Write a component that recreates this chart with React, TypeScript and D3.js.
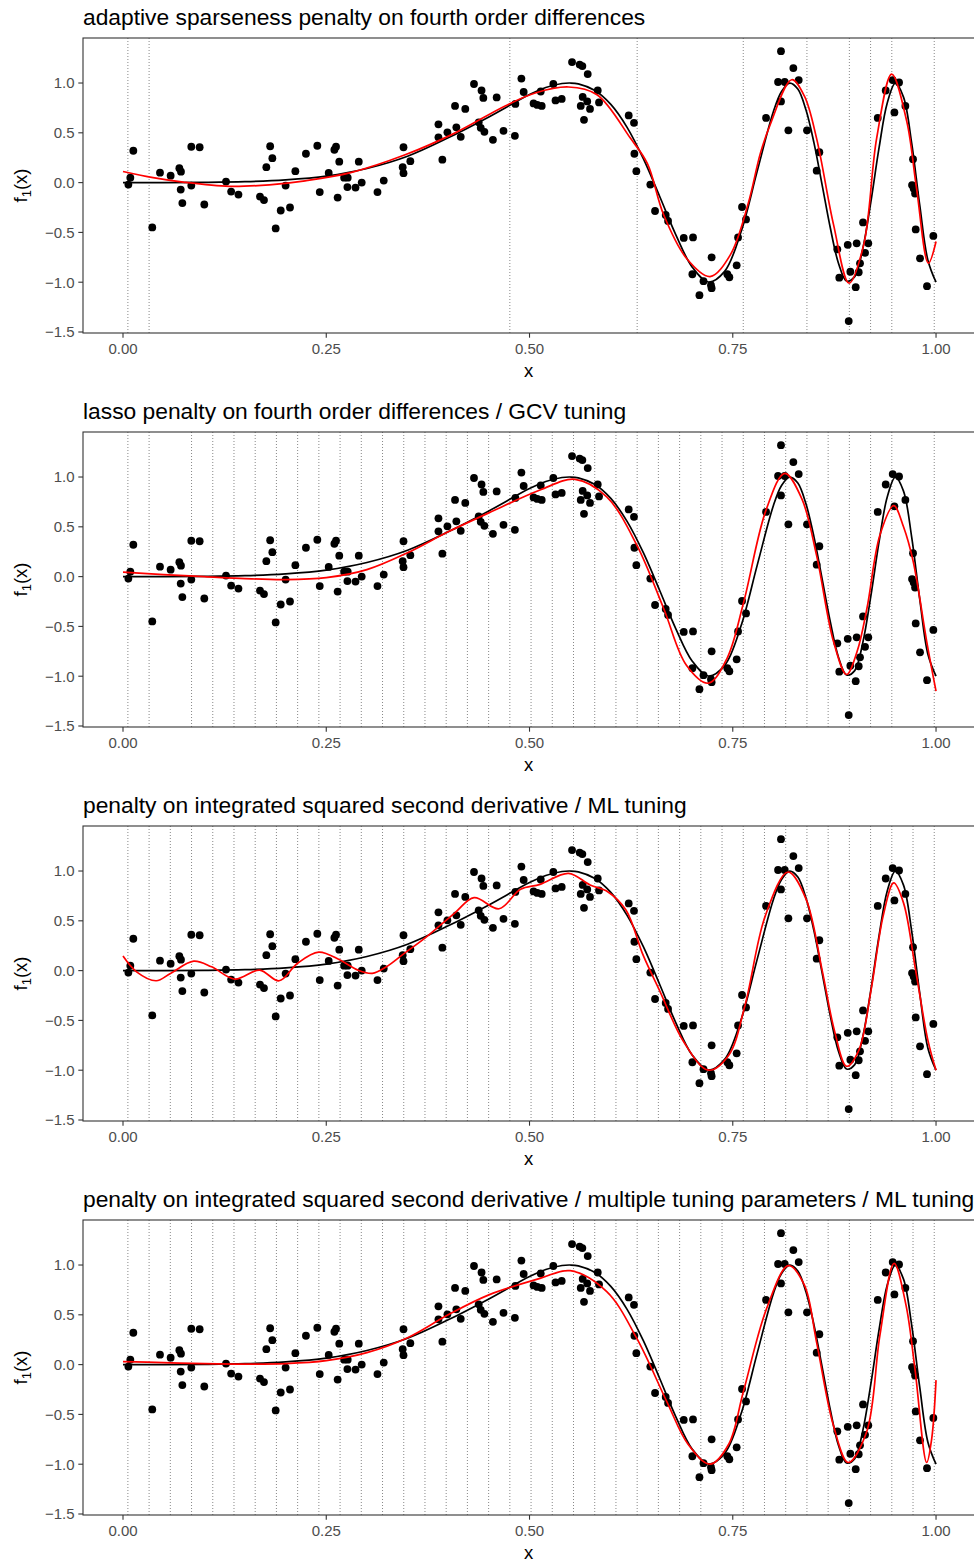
import React from "react";
import * as d3 from "d3";

// ---- layout ----
const WIDTH = 974;
const HEIGHT = 1564;
const PLOT_LEFT = 83;
const PLOT_RIGHT = 975;
const PANEL_TOP = 38;
const PANEL_HEIGHT = 295;
const PANEL_STEP = 394;
const FONT = "'Liberation Sans', Arial, Helvetica, sans-serif";

// ---- panel titles ----
const TITLES = [
  "adaptive sparseness penalty on fourth order differences",
  "lasso penalty on fourth order differences / GCV tuning",
  "penalty on integrated squared second derivative / ML tuning",
  "penalty on integrated squared second derivative / multiple tuning parameters / ML tuning",
];

// ---- axes ----
const X_DOMAIN = [-0.0492, 1.0467];
const Y_DOMAIN = [-1.51, 1.452];
const X_TICKS = [0, 0.25, 0.5, 0.75, 1];
const Y_TICKS = [-1.5, -1, -0.5, 0, 0.5, 1];

// ---- observations ----
const OBS_X = [
  0.0066, 0.009, 0.0127, 0.036, 0.0455, 0.0586, 0.0693, 0.0713, 0.071, 0.073,
  0.084, 0.084, 0.0943, 0.1, 0.1267, 0.133, 0.142, 0.1685, 0.1734, 0.1763,
  0.181, 0.1837, 0.1878, 0.194, 0.2, 0.2054, 0.212, 0.225, 0.239, 0.242,
  0.253, 0.26, 0.262, 0.264, 0.266, 0.272, 0.2764, 0.276, 0.286, 0.29,
  0.2936, 0.313, 0.3207, 0.345, 0.344, 0.345, 0.3534, 0.388, 0.388, 0.3928,
  0.399, 0.4084, 0.41, 0.4154, 0.421, 0.4317, 0.4375, 0.441, 0.4432, 0.44,
  0.4445, 0.455, 0.4596, 0.468, 0.482, 0.4826, 0.49, 0.4928, 0.505, 0.5096,
  0.515, 0.5138, 0.5293, 0.532, 0.5396, 0.5523, 0.5617, 0.565, 0.5716, 0.5654,
  0.563, 0.571, 0.5744, 0.567, 0.5839, 0.5855, 0.622, 0.6285, 0.629, 0.6314,
  0.6486, 0.6544, 0.6675, 0.6704, 0.6897, 0.7011, 0.7003, 0.709, 0.714, 0.7232,
  0.724, 0.724, 0.7433, 0.7458, 0.7548, 0.7565, 0.7614, 0.7663, 0.7909, 0.8093,
  0.8057, 0.8139, 0.8093, 0.8184, 0.8245, 0.8311, 0.8413, 0.8565, 0.8532, 0.8786,
  0.881, 0.8914, 0.8926, 0.8946, 0.9012, 0.9024, 0.9049, 0.9065, 0.9127, 0.9167,
  0.9102, 0.9283, 0.9381, 0.9467, 0.9545, 0.9488, 0.9623, 0.9717, 0.9705, 0.9725,
  0.9742, 0.975, 0.9803, 0.9889, 0.9967,
];
const OBS_Y = [
  -0.02, 0.05, 0.32, -0.45, 0.1, 0.07, 0.145, 0.11, -0.07, -0.205,
  0.36, -0.03, 0.355, -0.22, 0.01, -0.09, -0.12, -0.14, -0.175, 0.155,
  0.365, 0.245, -0.46, -0.28, -0.03, -0.25, 0.115, 0.29, 0.37, -0.095,
  0.097, 0.33, 0.36, -0.15, 0.21, 0.05, 0.05, -0.045, -0.05, 0.21,
  0.0, -0.095, 0.02, 0.355, 0.155, 0.095, 0.215, 0.585, 0.455, 0.23,
  0.505, 0.77, 0.555, 0.46, 0.74, 0.99, 0.605, 0.925, 0.85, 0.55,
  0.51, 0.43, 0.855, 0.52, 0.47, 0.79, 1.045, 0.91, 0.795, 0.78,
  0.77, 0.915, 0.99, 0.825, 0.84, 1.21, 1.185, 1.17, 1.09, 0.86,
  0.77, 0.815, 0.74, 0.63, 0.925, 0.805, 0.675, 0.6, 0.29, 0.115,
  -0.02, -0.285, -0.325, -0.385, -0.555, -0.55, -0.92, -1.13, -0.99, -1.03,
  -1.06, -0.75, -0.92, -0.95, -0.83, -0.55, -0.245, -0.37, 0.65, 1.32,
  1.01, 1.01, 0.815, 0.525, 1.15, 1.03, 0.525, 0.305, 0.12, -0.67,
  -0.955, -0.625, -1.39, -0.895, -1.05, -0.61, -0.9, -0.81, -0.705, -0.61,
  -0.4, 0.65, 0.925, 1.03, 1.005, 0.705, 0.77, 0.235, -0.025, -0.06,
  -0.11, -0.47, -0.76, -1.04, -0.535,
];

// ---- true function f1 (black) ----
const TRUE_X = [
  0, 0.05, 0.1, 0.15, 0.2, 0.25, 0.3, 0.35, 0.4, 0.45, 0.5, 0.52, 0.54, 0.55,
  0.56, 0.58, 0.6, 0.62, 0.64, 0.66, 0.68, 0.7, 0.72, 0.74, 0.76, 0.78, 0.8,
  0.81, 0.82, 0.83, 0.84, 0.85, 0.86, 0.87, 0.88, 0.89, 0.9, 0.91, 0.92, 0.93,
  0.94, 0.95, 0.96, 0.97, 0.98, 0.99, 1.0,
];
const TRUE_Y = [
  0, 0, 0.002, 0.009, 0.028, 0.066, 0.142, 0.265, 0.45, 0.66, 0.884, 0.955,
  0.995, 1.0, 0.992, 0.927, 0.785, 0.555, 0.24, -0.137, -0.524, -0.847, -0.998,
  -0.891, -0.499, 0.113, 0.714, 0.915, 0.999, 0.94, 0.731, 0.394, -0.027,
  -0.456, -0.809, -0.988, -0.944, -0.66, -0.185, 0.353, 0.799, 0.998, 0.858,
  0.4, -0.229, -0.779, -1.0,
];

// ---- fitted curves (red) ----
const FIT1_X = [
  0, 0.037, 0.074, 0.131, 0.18, 0.224, 0.28, 0.347, 0.408, 0.47, 0.507, 0.548,
  0.583, 0.624, 0.645, 0.665, 0.693, 0.722, 0.747, 0.769, 0.784, 0.796, 0.8225,
  0.838, 0.853, 0.874, 0.893, 0.911, 0.927, 0.9455, 0.964, 0.976, 0.9906, 1.0,
];
const FIT1_Y = [
  0.112, 0.05, 0.005, -0.038, -0.022, 0.018, 0.1, 0.279, 0.497, 0.77, 0.9, 0.96,
  0.883, 0.447, 0.19, -0.323, -0.759, -0.943, -0.725, -0.21, 0.296, 0.581, 1.033,
  0.87, 0.447, -0.424, -1.01, -0.625, 0.447, 1.09, 0.615, -0.055, -0.809, -0.591,
];

const FIT2_X = [
  0, 0.05, 0.1, 0.15, 0.2, 0.25, 0.3, 0.35, 0.4, 0.45, 0.513, 0.556, 0.595,
  0.632, 0.665, 0.693, 0.72, 0.743, 0.763, 0.791, 0.814, 0.835, 0.853, 0.874,
  0.89, 0.903, 0.915, 0.931, 0.948, 0.96, 0.972, 0.9886, 1.0,
];
const FIT2_Y = [
  0.045, 0.02, 0.0, -0.02, -0.03, -0.01, 0.07, 0.24, 0.45, 0.64, 0.87, 0.977,
  0.8, 0.316, -0.32, -0.89, -1.07, -0.82, -0.27, 0.67, 1.037, 0.78, 0.216,
  -0.655, -0.983, -0.75, -0.32, 0.417, 0.712, 0.5, 0.149, -0.655, -1.15,
];

const FIT3_X = [
  0, 0.0167, 0.0408, 0.0584, 0.087, 0.109, 0.1375, 0.168, 0.192, 0.2144, 0.2407,
  0.267, 0.289, 0.3066, 0.324, 0.346, 0.3725, 0.4076, 0.4318, 0.4625, 0.489,
  0.513, 0.548, 0.5745, 0.5966, 0.6186, 0.64, 0.66, 0.69, 0.72, 0.745, 0.765,
  0.79, 0.818, 0.84, 0.86, 0.875, 0.89, 0.905, 0.92, 0.935, 0.948, 0.96, 0.975,
  0.99, 1.0,
];
const FIT3_Y = [
  0.146, -0.012, -0.102, -0.028, 0.095, 0.038, -0.085, 0.005, -0.102, 0.072, 0.186,
  0.106, 0.005, -0.028, 0.038, 0.173, 0.333, 0.575, 0.732, 0.621, 0.816,
  0.866, 0.977, 0.86, 0.79, 0.608, 0.15, -0.2, -0.72, -1.0, -0.85, -0.35,
  0.55, 0.99, 0.72, 0.0, -0.6, -0.96, -0.8, -0.2, 0.55, 0.88, 0.68, 0.0,
  -0.7, -1.0,
];

const FIT4_X = [
  0, 0.05, 0.1, 0.15, 0.2, 0.25, 0.3, 0.35, 0.4, 0.45, 0.513, 0.55, 0.595,
  0.632, 0.669, 0.695, 0.722, 0.745, 0.763, 0.7917, 0.8184, 0.838, 0.853,
  0.8737, 0.892, 0.9147, 0.931, 0.9484, 0.963, 0.974, 0.9885, 0.9947, 1.0,
];
const FIT4_Y = [
  0.03, 0.02, 0.01, 0.005, 0.01, 0.04, 0.12, 0.27, 0.5, 0.7, 0.866, 0.943, 0.732,
  0.263, -0.374, -0.8, -1.0, -0.8, -0.273, 0.565, 0.993, 0.8, 0.229,
  -0.608, -0.983, -0.675, 0.296, 1.017, 0.6, -0.038, -0.983, -0.742, -0.156,
];

// ---- knot positions (dotted verticals) ----
const KNOTS_1 = [0.006, 0.0321, 0.4758, 0.6324, 0.7629, 0.8412, 0.8934, 0.9195, 0.9456, 0.9978];
const KNOTS_2 = [
  0.006, 0.0321, 0.0843, 0.1104, 0.1365, 0.1626, 0.1887, 0.2148, 0.2409, 0.267,
  0.2931, 0.3192, 0.3453, 0.3714, 0.3975, 0.4236, 0.4497, 0.4758, 0.5019, 0.528,
  0.5541, 0.5802, 0.6063, 0.6324, 0.6585, 0.6846, 0.7107, 0.7368, 0.7629, 0.789,
  0.8151, 0.8412, 0.8673, 0.8934, 0.9195, 0.9456, 0.9978,
];
const KNOTS_FULL = [
  0.006, 0.0321, 0.0582, 0.0843, 0.1104, 0.1365, 0.1626, 0.1887, 0.2148, 0.2409,
  0.267, 0.2931, 0.3192, 0.3453, 0.3714, 0.3975, 0.4236, 0.4497, 0.4758, 0.5019,
  0.528, 0.5541, 0.5802, 0.6063, 0.6324, 0.6585, 0.6846, 0.7107, 0.7368, 0.7629,
  0.789, 0.8151, 0.8412, 0.8673, 0.8934, 0.9195, 0.9456, 0.9717, 0.9978,
];

const PANELS = [
  { title: TITLES[0], fitX: FIT1_X, fitY: FIT1_Y, knots: KNOTS_1 },
  { title: TITLES[1], fitX: FIT2_X, fitY: FIT2_Y, knots: KNOTS_2 },
  { title: TITLES[2], fitX: FIT3_X, fitY: FIT3_Y, knots: KNOTS_FULL },
  { title: TITLES[3], fitX: FIT4_X, fitY: FIT4_Y, knots: KNOTS_FULL },
];

const fmtX = (v: number) => v.toFixed(2);
const fmtY = (v: number) => (v < 0 ? "\u2212" + Math.abs(v).toFixed(1) : v.toFixed(1));

const x = d3.scaleLinear().domain(X_DOMAIN).range([PLOT_LEFT, 974]);

function Panel({ index }: { index: number }) {
  const p = PANELS[index];
  const top = PANEL_TOP + index * PANEL_STEP;
  const bottom = top + PANEL_HEIGHT;
  const y = d3.scaleLinear().domain(Y_DOMAIN).range([bottom, top]);

  const smooth = d3
    .line<number>()
    .x((_, i) => x(TRUE_X[i]))
    .y((v) => y(v))
    .curve(d3.curveCatmullRom.alpha(0.5));
  const fitLine = d3
    .line<number>()
    .x((_, i) => x(p.fitX[i]))
    .y((v) => y(v))
    .curve(d3.curveCatmullRom.alpha(0.5));

  return (
    <g>
      <text x={PLOT_LEFT} y={top - 13.5} fontFamily={FONT} fontSize={22.8} fill="#000">
        {p.title}
      </text>

      {p.knots.map((k, i) => (
        <line
          key={"k" + i}
          x1={x(k)}
          x2={x(k)}
          y1={top}
          y2={bottom}
          stroke="#555"
          strokeWidth={0.7}
          strokeDasharray="1 2"
        />
      ))}

      {OBS_X.map((ox, i) => (
        <circle key={"p" + i} cx={x(ox)} cy={y(OBS_Y[i])} r={3.9} fill="#000" />
      ))}

      <path d={smooth(TRUE_Y) || ""} fill="none" stroke="#000" strokeWidth={1.7} />
      <path d={fitLine(p.fitY) || ""} fill="none" stroke="#FF0000" strokeWidth={1.7} />

      {/* panel frame */}
      <rect
        x={PLOT_LEFT}
        y={top}
        width={PLOT_RIGHT - PLOT_LEFT}
        height={PANEL_HEIGHT}
        fill="none"
        stroke="#333"
        strokeWidth={1.1}
      />

      {/* y axis */}
      {Y_TICKS.map((t) => (
        <g key={"yt" + t}>
          <line x1={PLOT_LEFT - 4.7} x2={PLOT_LEFT} y1={y(t)} y2={y(t)} stroke="#333" strokeWidth={1.1} />
          <text
            x={PLOT_LEFT - 8.4}
            y={y(t)}
            dy="0.36em"
            textAnchor="end"
            fontFamily={FONT}
            fontSize={15}
            fill="#4D4D4D"
          >
            {fmtY(t)}
          </text>
        </g>
      ))}

      {/* x axis */}
      {X_TICKS.map((t) => (
        <g key={"xt" + t}>
          <line x1={x(t)} x2={x(t)} y1={bottom} y2={bottom + 4.7} stroke="#333" strokeWidth={1.1} />
          <text
            x={x(t)}
            y={bottom + 21}
            textAnchor="middle"
            fontFamily={FONT}
            fontSize={15}
            fill="#4D4D4D"
          >
            {fmtX(t)}
          </text>
        </g>
      ))}

      <text x={(PLOT_LEFT + 974) / 2} y={bottom + 44} textAnchor="middle" fontFamily={FONT} fontSize={18.5} fill="#000">
        x
      </text>

      <text
        transform={`translate(27, ${(top + bottom) / 2}) rotate(-90)`}
        textAnchor="middle"
        fontFamily={FONT}
        fontSize={18.5}
        fill="#000"
      >
        f
        <tspan fontSize={13} dy="4">1</tspan>
        <tspan dy="-4">(x)</tspan>
      </text>
    </g>
  );
}

export default function App() {
  return (
    <svg width={WIDTH} height={HEIGHT} style={{ display: "block", position: "absolute", left: 0, top: 0, background: "#fff" }}>
      <rect width={WIDTH} height={HEIGHT} fill="#fff" />
      {PANELS.map((_, i) => (
        <Panel key={i} index={i} />
      ))}
    </svg>
  );
}
